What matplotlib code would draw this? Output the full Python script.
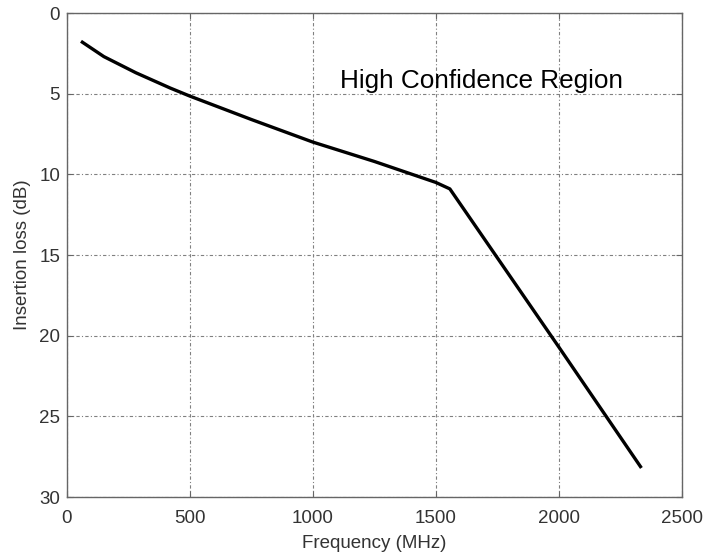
import matplotlib
matplotlib.use("Agg")
import matplotlib.pyplot as plt

# values
freq_mhz = [57, 150, 280, 420, 500, 750, 1000, 1250, 1500, 1557, 2000, 2336]
loss_db = [1.75, 2.7, 3.7, 4.65, 5.15, 6.6, 8.0, 9.2, 10.5, 10.9, 20.7, 28.2]
x_ticks = [0, 500, 1000, 1500, 2000, 2500]
y_ticks = [0, 5, 10, 15, 20, 25, 30]

plt.rcParams['font.family'] = ['Liberation Sans', 'DejaVu Sans']

fig = plt.figure(figsize=(7.05, 5.55), dpi=100)
ax = fig.add_axes([0.095, 0.1045, 0.872, 0.872])

ax.plot(freq_mhz, loss_db, color='black', linewidth=2.4, solid_capstyle='butt')

ax.set_xlim(0, 2500)
ax.set_ylim(30, 0)
ax.set_xticks(x_ticks)
ax.set_yticks(y_ticks)
ax.grid(True, color='#808080', linestyle=(0, (3, 2, 1, 2)), linewidth=0.8)

for s in ax.spines.values():
    s.set_color('#666666')
    s.set_linewidth(1.0)
ax.tick_params(direction='in', top=True, right=True, length=4, color='#666666',
               labelsize=13.5, labelcolor='#333333')
ax.tick_params(axis='x', pad=9)
ax.tick_params(axis='y', pad=5)

ax.set_xlabel('Frequency (MHz)', fontsize=13.5, color='#333333', labelpad=6)
ax.set_ylabel('Insertion loss (dB)', fontsize=13.5, color='#333333', labelpad=6)

ax.text(1110, 4.67, 'High Confidence Region', fontsize=18.8, color='black', va='baseline', ha='left')

fig.savefig('out.png', dpi=100)
